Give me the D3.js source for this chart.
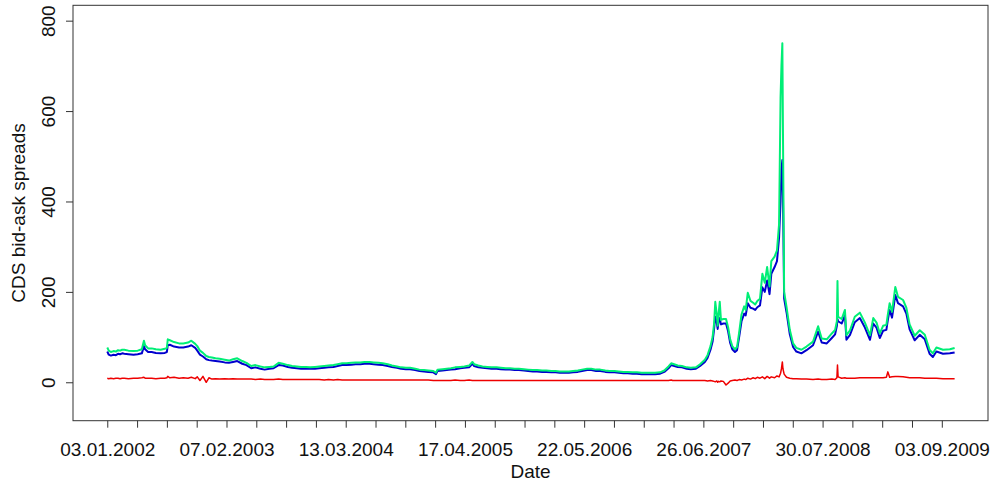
<!DOCTYPE html>
<html>
<head>
<meta charset="utf-8">
<script src="https://cdn.jsdelivr.net/npm/d3@7"></script>
<style>
body { margin: 0; background: #fff; }
text { font-family: "Liberation Sans", Arial, sans-serif; fill: #111; }
</style>
</head>
<body>
<script>
var dates = [
  "2002-01-03","2002-01-08","2002-01-15","2002-01-24","2002-02-01","2002-02-08","2002-02-15","2002-02-22","2002-03-01","2002-03-15",
  "2002-04-01","2002-04-15","2002-04-29","2002-05-06","2002-05-10","2002-05-20","2002-06-01","2002-06-15","2002-07-01","2002-07-15",
  "2002-07-22","2002-07-25","2002-08-01","2002-08-15","2002-09-01","2002-09-15","2002-10-01","2002-10-12","2002-10-25","2002-11-01",
  "2002-11-10","2002-11-20","2002-12-01","2002-12-10","2002-12-20",
  "2003-01-01","2003-01-15","2003-02-01","2003-02-15","2003-03-01","2003-03-15","2003-04-01","2003-04-15","2003-05-01","2003-05-15",
  "2003-06-01","2003-06-15","2003-07-01","2003-07-15","2003-08-01","2003-08-15","2003-09-01","2003-09-15","2003-10-01","2003-10-15",
  "2003-11-01","2003-11-15","2003-12-01","2003-12-15",
  "2004-01-01","2004-01-15","2004-02-01","2004-02-15","2004-03-01","2004-03-15","2004-04-01","2004-04-15","2004-05-01","2004-05-15",
  "2004-06-01","2004-06-15","2004-07-01","2004-07-15","2004-08-01","2004-08-15","2004-09-01","2004-09-15","2004-10-01","2004-10-15",
  "2004-11-01","2004-11-15","2004-12-01","2004-12-15",
  "2005-01-01","2005-01-10","2005-01-15","2005-02-01","2005-02-15","2005-03-01","2005-03-15","2005-04-01","2005-04-15","2005-05-01",
  "2005-05-12","2005-05-18","2005-06-01","2005-06-15","2005-07-01","2005-07-15","2005-08-01","2005-08-15","2005-09-01","2005-09-15",
  "2005-10-01","2005-10-15","2005-11-01","2005-11-15","2005-12-01","2005-12-15",
  "2006-01-01","2006-01-15","2006-02-01","2006-02-15","2006-03-01","2006-03-15","2006-04-01","2006-04-15","2006-05-01","2006-05-15",
  "2006-06-01","2006-06-15","2006-07-01","2006-07-15","2006-08-01","2006-08-15","2006-09-01","2006-09-15","2006-10-01","2006-10-15",
  "2006-11-01","2006-11-15","2006-12-01","2006-12-15",
  "2007-01-01","2007-01-15","2007-02-01","2007-02-15","2007-03-01","2007-03-10","2007-03-15","2007-04-01","2007-04-15","2007-05-01",
  "2007-05-15","2007-06-01","2007-06-15","2007-07-01","2007-07-10","2007-07-20","2007-07-27","2007-08-01","2007-08-05","2007-08-10",
  "2007-08-13","2007-08-16","2007-08-20","2007-08-24","2007-09-01","2007-09-10","2007-09-17","2007-09-24","2007-10-01","2007-10-10",
  "2007-10-17","2007-10-24","2007-11-01","2007-11-10","2007-11-15","2007-11-22","2007-12-01","2007-12-10","2007-12-17","2007-12-24",
  "2008-01-02","2008-01-10","2008-01-18","2008-01-26","2008-02-03","2008-02-09","2008-02-20","2008-02-28","2008-03-06","2008-03-11",
  "2008-03-14","2008-03-17","2008-03-19","2008-03-23","2008-03-31","2008-04-11","2008-04-22","2008-05-03","2008-05-20","2008-06-06",
  "2008-06-28","2008-07-15","2008-07-27","2008-08-13","2008-08-30","2008-09-10","2008-09-16","2008-09-18","2008-09-20","2008-10-02",
  "2008-10-13","2008-10-18","2008-10-30","2008-11-15","2008-12-02","2008-12-19",
  "2009-01-05","2009-01-16","2009-01-27","2009-02-07","2009-02-18","2009-03-01","2009-03-06","2009-03-12","2009-03-20","2009-03-31",
  "2009-04-09","2009-04-26","2009-05-07","2009-05-18","2009-06-04","2009-06-21","2009-07-08","2009-07-24","2009-08-04","2009-08-16",
  "2009-09-07","2009-09-30","2009-10-16"
];

var greenSeries = [
  77,70,67,69,68,71,70,72,72,70, 69,70,73,92,82,75,75,73,72,74, 76,95,93,89,86,86,88,92,85,80, 70,65,58,56,55,
  53,52,50,48,51,53,47,43,36,38, 35,33,34,35,43,41,38,36,35,34, 34,33,34,35,
  36,37,38,40,42,42,43,44,44,45, 45,44,43,42,40,37,35,33,32,32, 30,28,27,26,
  25,21,28,29,30,31,33,34,35,37, 45,40,37,35,34,33,33,32,31,31, 30,30,29,28,27,27,
  26,26,25,25,24,24,24,25,26,28, 30,30,28,28,26,25,25,24,23,23, 22,22,21,21,
  21,21,22,26,35,42,41,37,36,33, 32,33,40,50,60,80,100,130,178,150, 125,150,178,138,140,140,122,95,80,73, 78,110,150,168,160,198,180,176,172,180,
  185,240,220,255,212,268,278,292,350,630, 700,750,560,200,167,116,86,76,72,79, 90,124,97,95,108,116,135,224,145,140, 160,104,115,145,154,132,
  104,142,132,108,125,127,150,175,156,211, 189,182,165,128,103,115,105,72,64,77, 72,73,76
];

var blueSeries = [
  68,61,59,61,60,63,62,64,63,62, 61,62,64,80,73,67,67,65,64,65, 67,82,83,79,77,77,79,82,76,70, 61,57,51,49,48,
  47,46,44,43,45,47,41,38,31,33, 30,28,30,31,38,37,34,32,31,30, 30,30,30,31,
  32,33,34,36,38,38,39,40,40,41, 41,40,39,38,36,34,32,30,29,29, 27,25,24,23,
  22,18,25,26,27,28,29,31,32,33, 41,36,33,32,31,30,30,29,28,28, 27,27,26,25,24,24,
  23,23,22,22,21,21,21,22,23,25, 27,27,25,25,23,22,22,21,20,20, 19,19,18,18,
  18,18,19,23,31,38,37,34,33,30, 29,30,36,45,54,72,90,118,145,132, 118,135,142,128,130,130,113,87,73,67, 71,100,135,152,148,175,165,163,160,166,
  170,210,200,225,195,240,255,268,320,400, 470,492,420,185,155,106,78,68,64,71, 82,112,88,86,98,106,125,140,135,130, 148,94,105,133,142,121,
  94,130,121,98,114,116,138,160,143,193, 175,168,152,117,93,105,95,63,56,68, 63,64,66
];

var redSeries = [
  9,8,9,8,9,9,8,9,9,8, 9,9,10,11,9,9,9,8,9,9, 10,13,10,11,9,10,9,11,8,12, 4,13,0,10,7,
  8,7,8,7,8,7,7,7,7,6, 7,6,6,6,7,6,6,6,6,6, 6,6,6,6,
  5,6,5,6,5,5,5,5,5,5, 5,5,5,5,5,5,5,5,5,5, 5,5,5,5,
  4,4,4,4,4,4,5,4,4,5, 4,4,4,4,4,4,4,4,4,4, 4,4,4,4,4,4,
  4,4,4,4,4,4,4,4,4,4, 4,4,4,4,4,4,4,4,4,4, 4,4,4,4,
  4,4,4,4,4,5,4,4,4,4, 4,4,4,4,3,4,3,2,1,3, 0,2,1,3,2,-6,-2,3,4,5, 4,6,5,7,6,9,7,10,8,11,
  9,12,8,13,9,12,10,14,12,20, 30,45,30,18,11,9,8,8,7,7, 6,7,6,6,7,6,10,38,12,9, 10,9,9,9,10,10,
  10,10,10,10,10,11,23,11,12,13, 13,12,11,10,10,10,9,9,9,9, 8,8,8
];

var yTicks = [0, 200, 400, 600, 800];
var tickLabels = ["03.01.2002", "07.02.2003", "13.03.2004", "17.04.2005",
                  "22.05.2006", "26.06.2007", "30.07.2008", "03.09.2009"];

var W = 990, H = 484;
var plotLeft = 73, plotRight = 988, plotTop = 5.3, plotBottom = 420.7;
var fontSize = "19px";

var parse = d3.utcParse("%Y-%m-%d");
var start = parse("2002-01-03");
var rows = dates.map(function(d, i) {
  return {date: parse(d), green: greenSeries[i], blue: blueSeries[i], red: redSeries[i]};
});

var x = d3.scaleUtc()
  .domain([d3.utcDay.offset(start, -115), d3.utcDay.offset(start, 2955)])
  .range([plotLeft, plotRight]);
var y = d3.scaleLinear().domain([-85, 834]).range([plotBottom, plotTop]);

var svg = d3.select("body").append("svg").attr("width", W).attr("height", H);

// one tick every 100 days, a label on every 4th
var tickDates = d3.range(29).map(function(i) { return d3.utcDay.offset(start, i * 100); });

var xAxis = svg.append("g")
  .attr("transform", "translate(0," + plotBottom + ")")
  .call(d3.axisBottom(x).tickValues(tickDates).tickSize(7).tickPadding(14.5)
    .tickFormat(function(d, i) { return i % 4 === 0 ? tickLabels[i / 4] : ""; }));
xAxis.select(".domain").remove();
xAxis.selectAll("text").style("font-size", fontSize);

var yAxis = svg.append("g")
  .attr("transform", "translate(" + plotLeft + ",0)")
  .call(d3.axisLeft(y).tickValues(yTicks).tickSize(7));
yAxis.select(".domain").remove();
yAxis.selectAll("text")
  .style("font-size", fontSize)
  .attr("x", 0).attr("y", -18).attr("dy", 0)
  .attr("text-anchor", "middle")
  .attr("transform", "rotate(-90)");
svg.selectAll(".tick line").attr("stroke", "#333");

function drawLine(key, color, w) {
  svg.append("path")
    .datum(rows)
    .attr("fill", "none")
    .attr("stroke", color)
    .attr("stroke-width", w)
    .attr("stroke-linejoin", "round")
    .attr("d", d3.line().x(function(d) { return x(d.date); }).y(function(d) { return y(d[key]); }));
}
drawLine("blue", "#0000cd", 2);
drawLine("green", "#00ee76", 2);
drawLine("red", "#ee0000", 1.5);

svg.append("rect")
  .attr("x", plotLeft).attr("y", plotTop)
  .attr("width", plotRight - plotLeft).attr("height", plotBottom - plotTop)
  .attr("fill", "none").attr("stroke", "#333");

svg.append("text")
  .attr("x", (plotLeft + plotRight) / 2).attr("y", 478)
  .attr("text-anchor", "middle").style("font-size", fontSize)
  .text("Date");

svg.append("text")
  .attr("transform", "translate(25," + (plotTop + plotBottom) / 2 + ") rotate(-90)")
  .attr("text-anchor", "middle").style("font-size", fontSize)
  .text("CDS bid-ask spreads");
</script>
</body>
</html>
